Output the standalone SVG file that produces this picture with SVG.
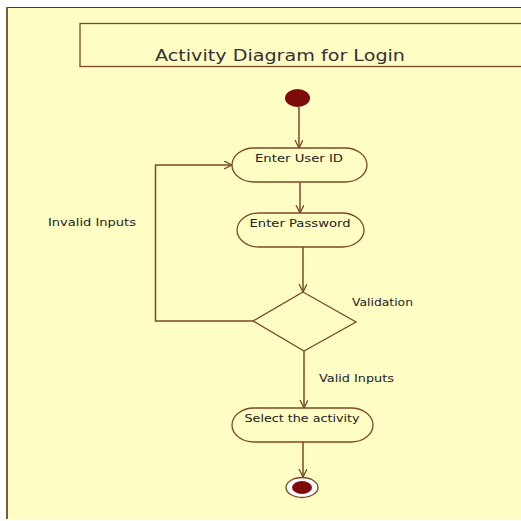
<svg xmlns="http://www.w3.org/2000/svg" width="521" height="521" viewBox="0 0 521 521">
<defs>
<style>
.bg{fill:#fefdc3}
.node{fill:#fefdc3;stroke:#7a4a2a;stroke-width:1.3}
.edge{fill:none;stroke:#7a4a2a;stroke-width:1.5}
.lbl{font-family:"DejaVu Sans",Verdana,sans-serif;font-size:10px;fill:#222}
.title{font-family:"DejaVu Sans",Verdana,sans-serif;font-size:15.5px;fill:#333}
.dot{fill:#7f0a0a}
</style>
<marker id="arr" markerUnits="userSpaceOnUse" markerWidth="10" markerHeight="10" refX="8" refY="4" orient="auto">
<path d="M0,0 L8,4 L0,8" fill="none" stroke="#7a4a2a" stroke-width="1.3"/>
</marker>
</defs>
<rect x="0" y="0" width="521" height="521" fill="#ffffff"/>
<rect class="bg" x="6" y="7" width="515" height="512"/>
<line x1="6" y1="7.5" x2="521" y2="7.5" stroke="#4a3a20" stroke-width="1.2"/>
<line x1="7" y1="7" x2="7" y2="519" stroke="#7a5c3c" stroke-width="2"/>
<g id="title">
<rect class="node" x="80" y="23.5" width="445" height="43"/>
<text class="title" x="155" y="61" textLength="250" lengthAdjust="spacingAndGlyphs">Activity Diagram for Login</text>
</g>
<g id="connectors">
<line class="edge" x1="299" y1="107" x2="299" y2="148" marker-end="url(#arr)"/>
<line class="edge" x1="300" y1="182" x2="300" y2="213" marker-end="url(#arr)"/>
<line class="edge" x1="303" y1="247" x2="303" y2="292" marker-end="url(#arr)"/>
<polyline class="edge" points="253,321 155.5,321 155.5,165 232,165" marker-end="url(#arr)"/>
<line class="edge" x1="304" y1="351" x2="304" y2="408" marker-end="url(#arr)"/>
<line class="edge" x1="303" y1="442" x2="303" y2="477" marker-end="url(#arr)"/>
<text class="lbl" x="48" y="225.7" textLength="88" lengthAdjust="spacingAndGlyphs">Invalid Inputs</text>
<text class="lbl" x="352" y="305.7" textLength="61" lengthAdjust="spacingAndGlyphs">Validation</text>
<text class="lbl" x="319" y="381.7" textLength="75" lengthAdjust="spacingAndGlyphs">Valid Inputs</text>
</g>
<g id="start">
<ellipse class="dot" cx="297.5" cy="98" rx="12.5" ry="9"/>
</g>
<g id="enterUserId">
<rect class="node" x="232" y="148" width="135" height="34" rx="22" ry="17"/>
<text class="lbl" x="255" y="162" textLength="88" lengthAdjust="spacingAndGlyphs">Enter User ID</text>
</g>
<g id="enterPassword">
<rect class="node" x="237" y="213" width="127" height="34" rx="22" ry="17"/>
<text class="lbl" x="249.5" y="226.7" textLength="101" lengthAdjust="spacingAndGlyphs">Enter Password</text>
</g>
<g id="validation">
<polygon class="node" points="303,292 356,322 304,351 253,321"/>
</g>
<g id="selectActivity">
<rect class="node" x="232" y="408" width="141" height="34" rx="22" ry="17"/>
<text class="lbl" x="244.5" y="421.7" textLength="115" lengthAdjust="spacingAndGlyphs">Select the activity</text>
</g>
<g id="end">
<ellipse cx="302" cy="487.5" rx="16" ry="10" fill="#ffffff" stroke="#7a4a2a" stroke-width="1.3"/>
<ellipse class="dot" cx="302" cy="487.5" rx="10" ry="6.5"/>
</g>
</svg>
